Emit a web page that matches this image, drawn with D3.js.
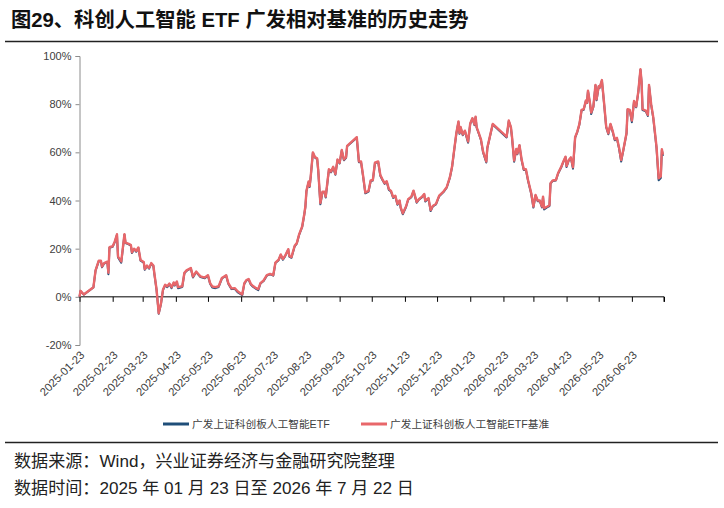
<!DOCTYPE html>
<html>
<head>
<meta charset="utf-8">
<script src="https://cdn.jsdelivr.net/npm/d3@7"></script>
<style>
  html, body { margin: 0; padding: 0; background: #fff; }
  svg { display: block; }
</style>
</head>
<body>
<svg id="chart" width="724" height="508"></svg>
<script>
const titleText = "图29、科创人工智能 ETF 广发相对基准的历史走势";
const sourceText = "数据来源：Wind，兴业证券经济与金融研究院整理";
const dateText = "数据时间：2025 年 01 月 23 日至 2026 年 7 月 22 日";
const seriesNames = ["广发上证科创板人工智能ETF", "广发上证科创板人工智能ETF基准"];
const yTicks = [-20, 0, 20, 40, 60, 80, 100];
const xTickDates = ["2025-01-23","2025-02-23","2025-03-23","2025-04-23","2025-05-23","2025-06-23",
  "2025-07-23","2025-08-23","2025-09-23","2025-10-23","2025-11-23","2025-12-23",
  "2026-01-23","2026-02-23","2026-03-23","2026-04-23","2026-05-23","2026-06-23","2026-07-23"];
const xDomain = ["2025-01-23", "2026-07-23"];

const dates = [
"2025-01-23","2025-01-24","2025-01-27","2025-02-05","2025-02-07","2025-02-10","2025-02-12","2025-02-13","2025-02-15","2025-02-18",
"2025-02-19","2025-02-20","2025-02-23","2025-02-25","2025-02-27","2025-02-28","2025-03-03","2025-03-06","2025-03-07","2025-03-10",
"2025-03-12","2025-03-13","2025-03-15","2025-03-17","2025-03-19","2025-03-21","2025-03-24","2025-03-25","2025-03-27","2025-03-29",
"2025-03-31","2025-04-02","2025-04-03","2025-04-05","2025-04-07","2025-04-09","2025-04-11","2025-04-13","2025-04-15","2025-04-17",
"2025-04-19","2025-04-21","2025-04-22","2025-04-24","2025-04-25","2025-04-29","2025-05-01","2025-05-03","2025-05-07","2025-05-09",
"2025-05-12","2025-05-14","2025-05-16","2025-05-20","2025-05-23","2025-05-25","2025-05-27","2025-05-30","2025-06-02","2025-06-05",
"2025-06-09","2025-06-11","2025-06-14","2025-06-17","2025-06-20","2025-06-24","2025-06-26","2025-06-28","2025-06-30","2025-07-02",
"2025-07-04","2025-07-07","2025-07-09","2025-07-11","2025-07-14","2025-07-17","2025-07-20","2025-07-23","2025-07-25","2025-07-28",
"2025-07-30","2025-08-01","2025-08-03","2025-08-06","2025-08-07","2025-08-09","2025-08-12","2025-08-14","2025-08-16","2025-08-19",
"2025-08-21","2025-08-22","2025-08-23","2025-08-25","2025-08-26","2025-08-27","2025-08-29","2025-08-31","2025-09-02","2025-09-03",
"2025-09-05","2025-09-07","2025-09-09","2025-09-10","2025-09-13","2025-09-15","2025-09-17","2025-09-19","2025-09-21","2025-09-23",
"2025-09-25","2025-09-27","2025-09-29","2025-09-30","2025-10-09","2025-10-11","2025-10-13","2025-10-15","2025-10-17","2025-10-20",
"2025-10-22","2025-10-24","2025-10-26","2025-10-29","2025-10-31","2025-11-02","2025-11-04","2025-11-06","2025-11-08","2025-11-10",
"2025-11-12","2025-11-14","2025-11-16","2025-11-18","2025-11-19","2025-11-21","2025-11-24","2025-11-26","2025-11-29","2025-12-01",
"2025-12-04","2025-12-06","2025-12-09","2025-12-11","2025-12-12","2025-12-15","2025-12-17","2025-12-19","2025-12-22","2025-12-25",
"2025-12-29","2026-01-01","2026-01-04","2026-01-06","2026-01-08","2026-01-10","2026-01-12","2026-01-13","2026-01-14","2026-01-16",
"2026-01-18","2026-01-21","2026-01-23","2026-01-25","2026-01-27","2026-01-28","2026-01-29","2026-01-31","2026-02-02","2026-02-04",
"2026-02-07","2026-02-08","2026-02-10","2026-02-13","2026-02-26","2026-02-28","2026-03-02","2026-03-03","2026-03-05","2026-03-07",
"2026-03-08","2026-03-10","2026-03-12","2026-03-14","2026-03-16","2026-03-18","2026-03-21","2026-03-23","2026-03-25","2026-03-27",
"2026-03-29","2026-03-31","2026-04-01","2026-04-02","2026-04-05","2026-04-07","2026-04-08","2026-04-10","2026-04-13","2026-04-15",
"2026-04-18","2026-04-20","2026-04-22","2026-04-23","2026-04-25","2026-04-27","2026-04-29","2026-05-01","2026-05-03","2026-05-05",
"2026-05-07","2026-05-09","2026-05-11","2026-05-12","2026-05-13","2026-05-15","2026-05-16","2026-05-18","2026-05-20","2026-05-21",
"2026-05-23","2026-05-24","2026-05-26","2026-05-28","2026-05-30","2026-06-01","2026-06-03","2026-06-05","2026-06-07","2026-06-09",
"2026-06-11","2026-06-13","2026-06-15","2026-06-18","2026-06-19","2026-06-21","2026-06-23","2026-06-25","2026-06-27","2026-06-29",
"2026-07-01","2026-07-02","2026-07-03","2026-07-06","2026-07-08","2026-07-09","2026-07-11","2026-07-13","2026-07-16","2026-07-18",
"2026-07-20","2026-07-21","2026-07-22"];

const benchValues = [
0,2.5,1.0,4.0,11,15,15,12.6,14,14.6,
10,20.6,21,23,26,16.7,14.7,26,22.5,22,
21.5,18.5,20,19,20.5,15.3,14.5,11.5,13,12,
14,13,9.5,3,-6.8,-3,3,5,4.4,5.5,
4,6,5,6.4,4,4.4,10,11,12,8.4,
10.5,9.5,8.5,8,9,5.7,4.3,4,4.4,7.8,
9,5.7,3.5,3.6,2.2,1.0,5.7,7,7.4,5.4,
4.5,3.6,3.2,5.7,6.8,9,9.5,9,14.2,15.4,
17.6,15.7,17,19.8,17,16.5,21.2,22.3,25.7,29.2,
34.4,37.5,44,47.9,46,50,60,58,57.5,52.7,
38.9,43.7,43.7,41.6,53,52,54,51,57,55.7,
61,57,58,62.7,66.3,56.2,56.2,50,43.3,44,
48.3,48.5,55.7,56.2,50.6,48.8,47.2,48,44.7,44,
41.4,42,38.6,40,37.2,34.7,37.5,40.5,41.6,44.1,
39.4,40.5,41.6,42.7,40,41,36,37.7,38.6,42,
43.7,45.5,49.7,54,61,67.9,72.8,68,70.5,67.4,
69,64.5,72,74.2,71.6,74.8,70.5,68,65.4,60.3,
56.2,62,65.9,71.8,66.5,73.2,70.5,66.5,56.6,61.4,
59.5,63,57,53,53,48.5,43,37.5,42.3,40,
40,37.5,41.6,36.8,37.5,38,47.2,48.3,48.5,51.3,
54,56.2,58.2,54.3,56.8,57.9,53.8,66.3,68.6,71.8,
77.6,77.9,81.5,80.6,85.6,80,76.5,79,88,82,
87.5,87,90,80.6,70.7,67.9,71.8,68.9,65.4,66,
62,56.8,61,68,77.9,77.6,73.2,81.3,79,85.2,
94.5,89.6,77.9,77.3,75.5,88,80,74.5,62.4,49.2,
50,61.3,59];

const etfValues = [
0,2.4,0.9,3.9,10.9,14.8,14.8,12.3,13.8,14.4,
9.4,20.4,20.8,22.8,25.8,16.3,14.2,25.8,22.3,21.8,
21.3,18.2,19.8,18.7,20.3,15.0,14.2,11.2,12.8,11.7,
13.8,12.8,9.2,2.8,-7.0,-3.2,2.8,4.8,4.0,5.3,
3.6,5.8,4.7,6.2,3.6,4.1,9.8,10.8,11.8,8.0,
10.3,9.2,8.2,7.7,8.8,5.4,3.9,3.6,4.1,7.6,
8.8,5.4,3.2,3.3,1.8,0.7,5.5,6.8,7.2,5.1,
4.2,3.3,2.8,5.5,6.6,8.8,9.3,8.8,14.0,15.2,
17.4,15.4,16.8,19.6,16.7,16.2,21.0,22.1,25.5,29.0,
34.2,37.3,43.8,47.6,45.6,49.8,59.8,57.8,57.2,52.4,
38.4,43.4,43.4,41.2,52.8,51.7,53.8,50.7,56.8,55.4,
60.8,56.7,57.7,62.5,66.1,55.9,55.9,49.7,43.0,43.7,
48.1,48.3,55.5,56.0,50.3,48.5,46.9,47.8,44.4,43.7,
41.1,41.8,38.2,39.8,36.9,34.3,37.3,40.3,41.4,43.9,
39.1,40.3,41.4,42.5,39.6,40.8,35.6,37.5,38.4,41.8,
43.5,45.3,49.5,53.8,60.8,67.7,72.6,67.7,70.3,67.1,
68.8,64.0,71.8,74.0,71.3,74.6,70.2,67.7,65.1,60.0,
55.8,61.8,65.7,71.6,66.2,73.0,70.2,66.2,56.1,61.2,
59.2,62.8,56.7,52.7,52.7,48.2,42.7,37.1,42.1,39.7,
39.7,37.1,41.4,36.3,37.2,37.7,47.0,48.1,48.3,51.1,
53.8,56.0,58.0,53.9,56.6,57.7,53.2,66.1,68.4,71.6,
77.4,77.7,81.3,80.4,85.4,79.7,75.9,78.8,87.8,81.6,
87.3,86.8,89.8,80.3,70.4,67.5,71.6,68.6,65.0,65.8,
61.6,56.2,60.8,67.8,77.7,77.3,72.5,81.1,78.7,85.0,
94.3,89.4,77.5,77.0,75.1,87.8,79.7,74.1,61.9,48.4,
49.3,61.0,58.5];

const W = 724, H = 508;
const svg = d3.select("#chart");
svg.append("rect").attr("width", W).attr("height", H).attr("fill", "#fff");

const latin = "'Liberation Sans', Arial, 'Noto Sans CJK SC', sans-serif";
const cjk = "'Liberation Sans', Arial, 'Noto Sans CJK SC', sans-serif";

// Title
svg.append("text").attr("x", 11).attr("y", 27)
  .attr("font-family", cjk).attr("font-size", 20.3).attr("font-weight", "bold")
  .attr("fill", "#111").text(titleText);
svg.append("line").attr("x1", 5).attr("x2", 718).attr("y1", 41.5).attr("y2", 41.5)
  .attr("stroke", "#222").attr("stroke-width", 1.3);

const parse = d3.timeParse("%Y-%m-%d");
const x = d3.scaleTime().domain(xDomain.map(parse)).range([79.5, 664]);
const y = d3.scaleLinear().domain([-20, 100]).range([345, 56]);

// Y axis
const yAxis = svg.append("g").attr("transform", "translate(79.5,0)")
  .call(d3.axisLeft(y).tickValues(yTicks).tickSize(4).tickPadding(4).tickFormat(d => d + "%"));
yAxis.select(".domain").attr("stroke", "#8c8c8c");
yAxis.selectAll(".tick line").attr("stroke", "#8c8c8c");
yAxis.selectAll(".tick text").attr("font-family", latin).attr("font-size", 11).attr("fill", "#404040");

// X axis at zero
const xTicks = xTickDates.map(parse);
const xAxis = svg.append("g").attr("transform", `translate(0,${y(0)})`)
  .call(d3.axisBottom(x).tickValues(xTicks).tickSize(5).tickFormat(""));
xAxis.select(".domain").attr("stroke", "#000").attr("d", `M${x.range()[0]},0H${x.range()[1]}V5`);
xAxis.selectAll(".tick line").attr("stroke", "#000");

// X tick labels (rotated), placed below plot
const fmt = d3.timeFormat("%Y-%m-%d");
svg.append("g").selectAll("text").data(xTicks.slice(0, -1)).join("text")
  .attr("transform", d => `translate(${x(d) + 3},${353}) rotate(-45)`)
  .attr("text-anchor", "end").attr("dy", "0.35em")
  .attr("font-family", latin).attr("font-size", 11.3).attr("fill", "#404040")
  .text(d => fmt(d));

// Lines
const pts = (vals) => dates.map((d, i) => [parse(d), vals[i]]);
const line = d3.line().x(d => x(d[0])).y(d => y(d[1]));
svg.append("path").attr("d", line(pts(etfValues))).attr("fill", "none")
  .attr("stroke", "#1F4E79").attr("stroke-width", 2).attr("stroke-linejoin", "round");
svg.append("path").attr("d", line(pts(benchValues))).attr("fill", "none")
  .attr("stroke", "#E8676A").attr("stroke-width", 2.4).attr("stroke-linejoin", "round");

// Legend
const legend = [
  { name: seriesNames[0], color: "#1F4E79", x: 163 },
  { name: seriesNames[1], color: "#E8676A", x: 361 }
];
const lg = svg.append("g");
legend.forEach(l => {
  lg.append("line").attr("x1", l.x).attr("x2", l.x + 26).attr("y1", 424).attr("y2", 424)
    .attr("stroke", l.color).attr("stroke-width", 3);
  lg.append("text").attr("x", l.x + 29).attr("y", 424).attr("dy", "0.35em")
    .attr("font-family", cjk).attr("font-size", 10.7).attr("fill", "#404040").text(l.name);
});

// Bottom rule and notes
svg.append("line").attr("x1", 5).attr("x2", 718).attr("y1", 442.5).attr("y2", 442.5)
  .attr("stroke", "#222").attr("stroke-width", 1.3);
svg.append("text").attr("x", 14).attr("y", 467)
  .attr("font-family", cjk).attr("font-size", 17.1).attr("fill", "#222").text(sourceText);
svg.append("text").attr("x", 14).attr("y", 494)
  .attr("font-family", cjk).attr("font-size", 17.1).attr("fill", "#222").text(dateText);
</script>
</body>
</html>
